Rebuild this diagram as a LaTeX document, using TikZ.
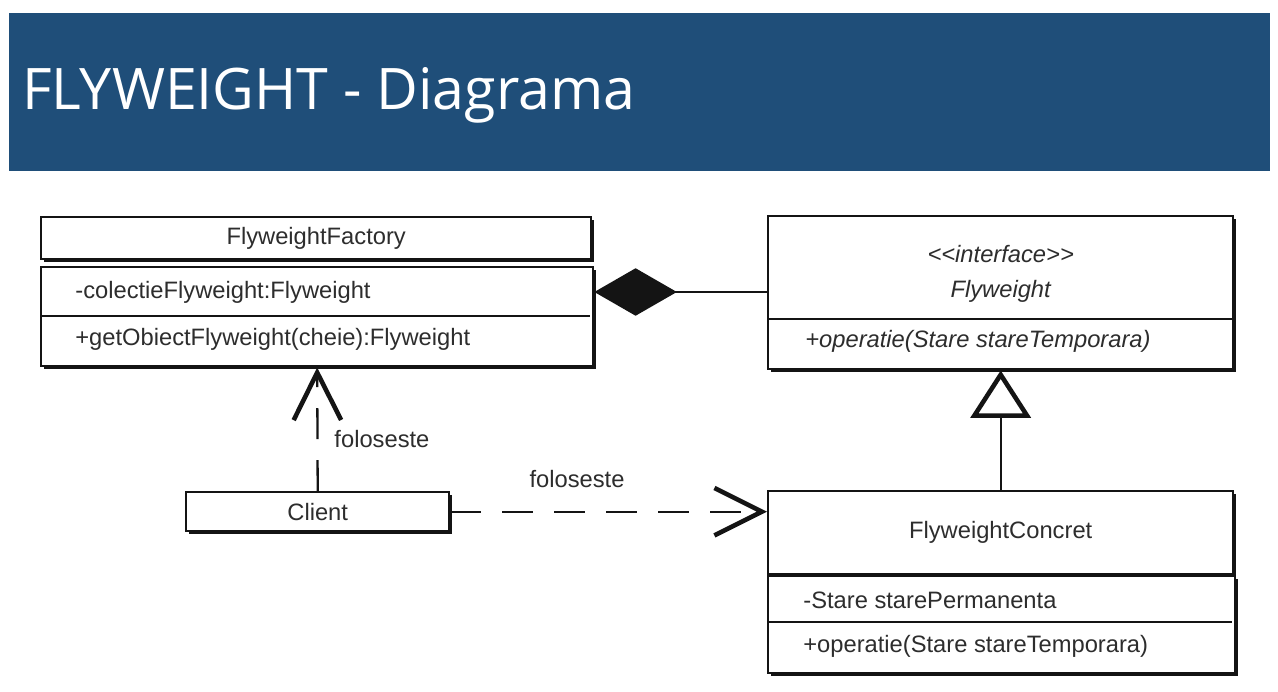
\documentclass[tikz,border=0pt]{standalone}
\usepackage{fontspec}
\setmainfont{Liberation Sans}
\newfontfamily\titlefont{Open Sans}
\usetikzlibrary{arrows.meta,positioning,calc,shadows}
\definecolor{bannerBlue}{RGB}{31,78,121}
\definecolor{umlInk}{RGB}{20,20,20}
\definecolor{umlText}{RGB}{45,45,45}
\tikzset{
  classbox/.style={draw=umlInk, fill=white, line width=1.4pt, anchor=north west,
                   inner sep=0pt, text=umlText, font=\fontsize{13.5}{16}\selectfont,
                   general shadow={fill=umlInk, shadow xshift=1.6pt, shadow yshift=-1.6pt}},
  member/.style={anchor=west, inner sep=0pt, text=umlText, font=\fontsize{13.5}{16}\selectfont},
  sepline/.style={draw=umlInk, line width=1.2pt},
  uses/.style={draw=umlInk, line width=1.3pt, dash pattern=on 0.62cm off 0.42cm,
               -{Straight Barb[length=0.95cm, width=0.95cm, line width=2.6pt]}},
  realizes/.style={draw=umlInk, line width=1.3pt,
                   -{Triangle[open, length=0.95cm, width=1.2cm, line width=2.6pt]}},
  composition/.style={draw=umlInk, line width=1.3pt,
                      {Diamond[length=1.65cm, width=0.95cm, fill=umlInk]}-},
  uselabel/.style={text=umlText, font=\fontsize{13.5}{16}\selectfont}
}
\begin{document}
\begin{tikzpicture}[x=0.02cm, y=-0.02cm]
\useasboundingbox[fill=white] (0,0) rectangle (1278,692);
\fill[bannerBlue] (9,13) rectangle (1270,171);
\node[anchor=base west, inner sep=0pt, text=white, font=\titlefont\fontsize{32.6}{38}\selectfont] (title) at (22,110) {FLYWEIGHT - Diagrama};

\node[classbox, minimum width=11cm, minimum height=0.84cm] (factoryName) at (40,216) {FlyweightFactory};
\node[classbox, minimum width=11.04cm, minimum height=1.98cm] (factoryBody) at (40,266) {};
\draw[sepline] (42,316) -- (590,316);
\node[member] (factAttr) at (75,292) {-colectieFlyweight:Flyweight};
\node[member] (factOp) at (75,339) {+getObiectFlyweight(cheie):Flyweight};

\node[classbox, minimum width=9.3cm, minimum height=2.06cm] (ifaceHead) at (767,215) {};
\node[align=center, text=umlText, font=\itshape\fontsize{13.5}{16}\selectfont] (ifaceName)
  at ($(ifaceHead.center)+(0,6)$) {<{}<interface>{}>\\[4pt]Flyweight};
\node[classbox, minimum width=9.3cm, minimum height=1cm] (ifaceBody) at (767,318) {};
\node[member, font=\itshape\fontsize{13.5}{16}\selectfont] (ifaceOp) at (805,341) {+operatie(Stare stareTemporara)};

\node[classbox, minimum width=5.26cm, minimum height=0.78cm] (client) at (185,491) {Client};

\node[classbox, minimum width=9.3cm, minimum height=1.66cm] (concHead) at (767,490) {FlyweightConcret};
\node[classbox, minimum width=9.34cm, minimum height=1.94cm] (concBody) at (767,575) {};
\draw[sepline] (769,622) -- (1232,622);
\node[member] (concAttr) at (803,600) {-Stare starePermanenta};
\node[member] (concOp) at (803,646) {+operatie(Stare stareTemporara)};

\draw[composition] (factoryBody.east |- factAttr) -- (ifaceHead.west |- factAttr);
\draw[uses] (client.north) -- node[uselabel, pos=0.42, right=0.2cm] {foloseste} (factoryBody.south);
\draw[uses] (client.east) -- node[uselabel, pos=0.4, above=0.35cm] {foloseste} (concHead.west |- client.east);
\draw[realizes] (concHead.north) -- (ifaceBody.south);
\end{tikzpicture}
\end{document}
